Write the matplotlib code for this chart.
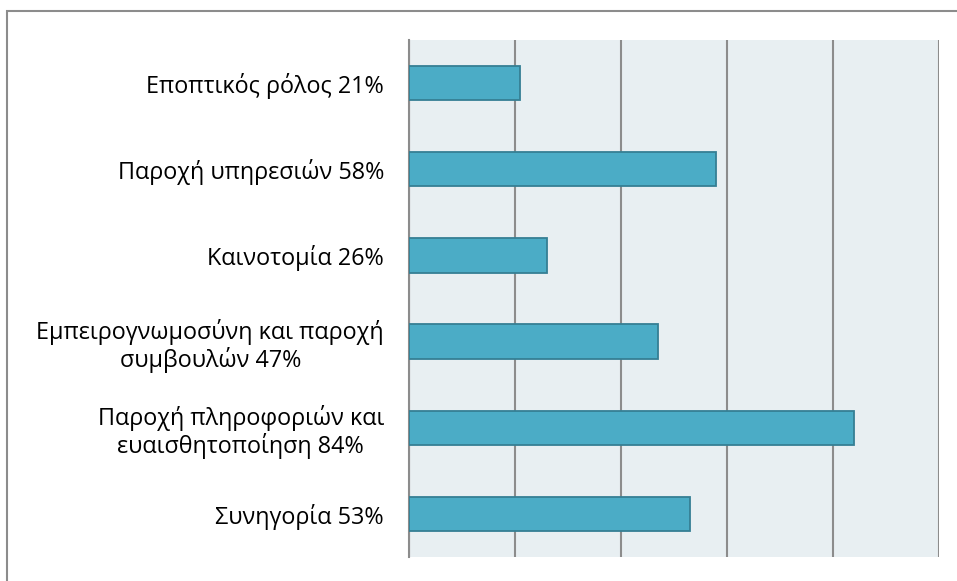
import matplotlib
matplotlib.use("Agg")
import matplotlib.pyplot as plt
from matplotlib.patches import Rectangle

categories = [
    "Εποπτικός ρόλος 21%",
    "Παροχή υπηρεσιών 58%",
    "Καινοτομία 26%",
    "Εμπειρογνωμοσύνη και παροχή\nσυμβουλών 47%",
    "Παροχή πληροφοριών και\nευαισθητοποίηση 84%",
    "Συνηγορία 53%",
]
values = [21, 58, 26, 47, 84, 53]
x_ticks = [0, 20, 40, 60, 80, 100]

plt.rcParams['font.family'] = ['Open Sans', 'DejaVu Sans']

W, H = 957, 581
fig = plt.figure(figsize=(W / 100, H / 100), dpi=100)
ax = fig.add_axes([409 / W, 1 - 557 / H, (939 - 409) / W, (557 - 40) / H])

ax.set_facecolor('#E8EFF2')
y = list(range(len(categories)))
ax.barh(y, values, height=0.4, color='#4BACC6', edgecolor='#357F94', linewidth=1.3, zorder=3)
ax.set_ylim(len(categories) - 0.5, -0.5)
ax.set_xlim(0, 100)
ax.set_xticks(x_ticks)
ax.set_xticklabels([])
ax.tick_params(axis='x', length=0)
ax.grid(axis='x', color='#8C8C8C', linewidth=1.5, zorder=1)
ax.set_yticks(y)
ax.set_yticklabels(categories, fontsize=16.8, color='#000000', multialignment='center',
                   linespacing=1.12)
ax.tick_params(axis='y', length=0, pad=18)
for s in ['top', 'right', 'bottom']:
    ax.spines[s].set_visible(False)
ax.spines['left'].set_color('#8C8C8C')
ax.spines['left'].set_linewidth(1.5)

# outer frame
fig.patches.append(Rectangle((7.5 / W, -0.1), 1.2, 1 - 10.5 / H + 0.1, transform=fig.transFigure,
                             fill=False, edgecolor='#8C8C8C', linewidth=1.5))

fig.savefig('out.png', dpi=100)
